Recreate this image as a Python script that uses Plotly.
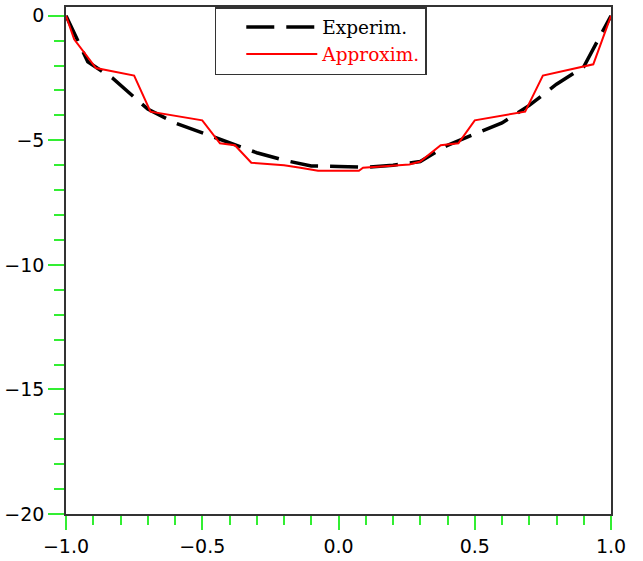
import plotly.graph_objects as go

# Experimental curve (black dashed)
exp_x = [-1.0, -0.92, -0.83, -0.7, -0.6, -0.5, -0.4, -0.3, -0.2, -0.1, 0.0,
         0.1, 0.2, 0.3, 0.4, 0.5, 0.6, 0.7, 0.8, 0.9, 1.0]
exp_y = [0.0, -1.85, -2.5, -3.75, -4.3, -4.7, -5.1, -5.5, -5.8, -6.03, -6.05,
         -6.08, -6.0, -5.85, -5.2, -4.75, -4.3, -3.6, -2.75, -2.05, 0.0]

# Approximation (red solid)
app_x = [-1.0, -0.97, -0.89, -0.75, -0.69, -0.50, -0.435, -0.38, -0.32, -0.20,
         -0.14, -0.075, 0.075, 0.09, 0.26, 0.30, 0.375, 0.44, 0.50, 0.685,
         0.75, 0.90, 0.935, 1.0]
app_y = [0.0, -0.95, -2.1, -2.4, -3.85, -4.2, -5.12, -5.2, -5.9, -6.0,
         -6.1, -6.22, -6.22, -6.1, -5.97, -5.85, -5.2, -5.12, -4.2, -3.85,
         -2.4, -2.05, -1.95, 0.0]

x_ticks = [-1.0, -0.5, 0.0, 0.5, 1.0]
y_ticks = [0, -5, -10, -15, -20]

green = "#33ee33"

fig = go.Figure()
fig.add_trace(go.Scatter(
    x=exp_x, y=exp_y, mode="lines", name="Experim.",
    line=dict(color="black", width=3.5, dash="28px,12px"),
))
fig.add_trace(go.Scatter(
    x=app_x, y=app_y, mode="lines",
    name="<span style='color:red'>Approxim.</span>",
    line=dict(color="red", width=2),
))

fig.update_layout(
    width=643, height=561,
    margin=dict(l=66, r=32, t=7, b=47, autoexpand=False),
    paper_bgcolor="white", plot_bgcolor="white",
    font=dict(family="DejaVu Sans", size=19, color="black"),
    legend=dict(
        x=0.273, y=1.0, xanchor="left", yanchor="top",
        bordercolor="#333", borderwidth=1.5, bgcolor="white",
        font=dict(family="DejaVu Serif", size=18.5, color="black"),
        itemwidth=71, indentation=25, tracegroupgap=0,
    ),
    showlegend=True,
)

fig.update_xaxes(
    range=[-1.0, 1.0], tickvals=x_ticks, tickformat=".1f",
    showgrid=False, zeroline=False, automargin=False,
    showline=True, linecolor="#333", linewidth=1.5, mirror=True,
    ticks="outside", ticklen=14, tickwidth=1.5, tickcolor=green,
    minor=dict(dtick=0.1, ticks="outside", ticklen=9, tickwidth=1.5,
               tickcolor=green, showgrid=False),
)
fig.update_yaxes(
    range=[-20, 0.35], tickvals=y_ticks,
    showgrid=False, zeroline=False, automargin=False,
    showline=True, linecolor="#333", linewidth=1.5, mirror=True,
    ticks="outside", ticklen=16, tickwidth=1.5, tickcolor=green,
    minor=dict(dtick=1, ticks="outside", ticklen=10, tickwidth=1.5,
               tickcolor=green, showgrid=False),
)

fig.write_html(
    "out.html",
    config={"displayModeBar": False},
    post_script="document.body.style.margin='0';document.body.style.padding='0';",
)
